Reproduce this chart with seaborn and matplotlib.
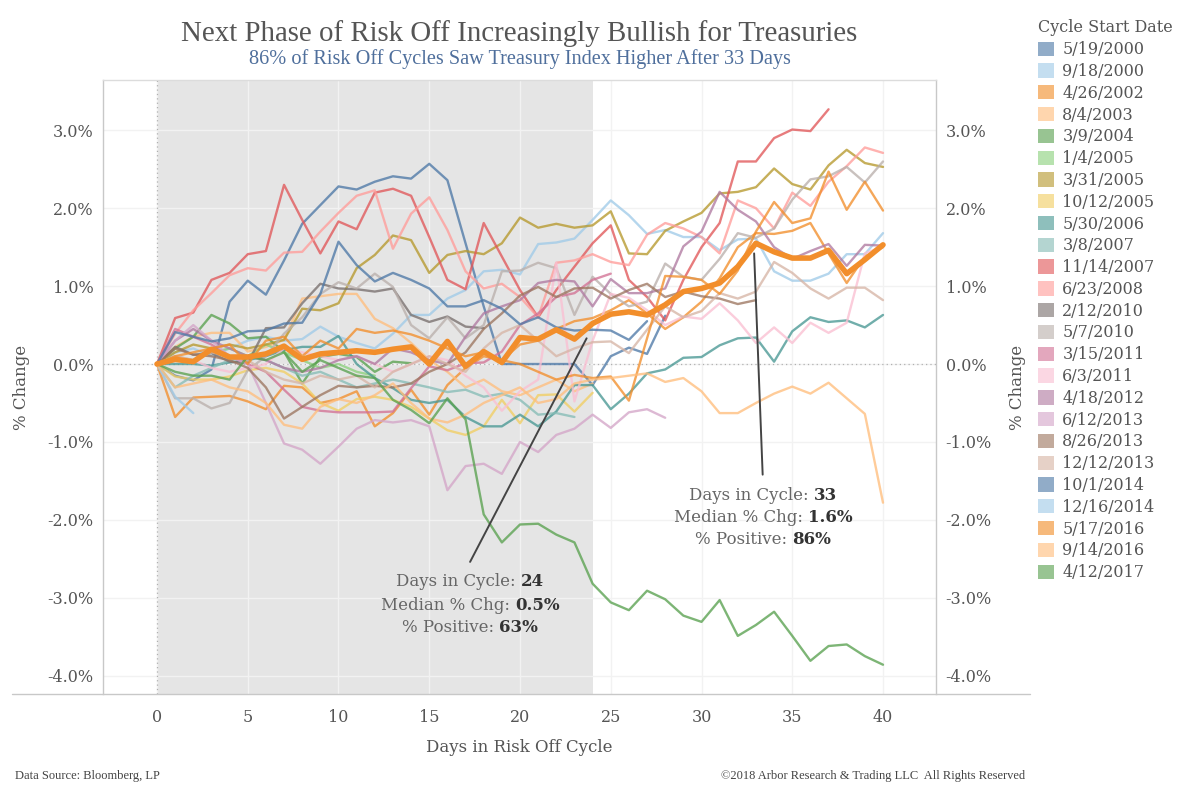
import numpy as np
import pandas as pd
import matplotlib
matplotlib.use("Agg")
import matplotlib.pyplot as plt
import seaborn as sns
from matplotlib.patches import Patch
from matplotlib.lines import Line2D

# ---------------- data ----------------
cycles = ["5/19/2000", "9/18/2000", "4/26/2002", "8/4/2003", "3/9/2004", "1/4/2005",
          "3/31/2005", "10/12/2005", "5/30/2006", "3/8/2007", "11/14/2007", "6/23/2008",
          "2/12/2010", "5/7/2010", "3/15/2011", "6/3/2011", "4/18/2012", "6/12/2013",
          "8/26/2013", "12/12/2013", "10/1/2014", "12/16/2014", "5/17/2016", "9/14/2016",
          "4/12/2017"]

colors = ["#4e79a7", "#a0cbe8", "#f28e2b", "#ffbe7d", "#59a14f", "#8cd17d",
          "#b6992d", "#f1ce63", "#499894", "#86bcb6", "#e15759", "#ff9d9a",
          "#79706e", "#bab0ac", "#d37295", "#fabfd2", "#b07aa1", "#d4a6c8",
          "#9d7660", "#d7b5a6", "#4e79a7", "#a0cbe8", "#f28e2b", "#ffbe7d",
          "#59a14f"]

c_5_19_2000 = [0, -0.15, -0.21, -0.07, 0.8, 1.07, 0.89, 1.33, 1.8, 2.04,
               2.28, 2.24, 2.34, 2.41, 2.38, 2.57, 2.36, 1.55, 0.74, 0.0,
               0.0, 0.0, 0.0, 0.0, -0.27, 0.10, 0.21, 0.13, 0.62]
c_9_18_2000 = [0, 0.15, 0.2, 0.1, 0.2, 0.3, 0.35, 0.3, 0.32, 0.48,
               0.35, 0.27, 0.2, 0.39, 0.63, 0.63, 0.84, 0.95, 1.19, 1.21,
               1.15, 1.54, 1.56, 1.61, 1.85, 2.10, 1.91, 1.67, 1.72, 1.63,
               1.63, 1.46, 1.6, 1.61, 1.19, 1.07, 1.07, 1.16, 1.41, 1.41, 1.68]
c_4_26_2002 = [0, -0.68, -0.43, -0.42, -0.41, -0.48, -0.58, -0.28, -0.3, -0.5,
               -0.45, -0.35, -0.8, -0.63, -0.33, -0.65, -0.27, -0.05, 0.1, 0.05,
               0.25, 0.3, 0.45, 0.55, 0.59, 0.69, 0.82, 0.65, 0.45, 0.6,
               0.8, 1.1, 1.5, 1.68, 1.67, 1.71, 1.81, 1.42, 1.04, 1.38, 1.5]
c_8_4_2003 = [0, 0.22, 0.35, 0.4, 0.4, 0.16, 0.22, 0.31, 0.84, 0.87,
              0.9, 0.9, 0.58, 0.46, 0.27, 0.05, -0.1, -0.3, -0.2, -0.35,
              -0.4, -0.3, -0.2, -0.35, -0.25]
c_3_9_2004 = [0, 0.2, 0.35, 0.63, 0.52, 0.33, 0.35, 0.16, -0.25, 0.09,
              0.13, 0.09, -0.1, 0.03, 0.01]
c_1_4_2005 = [0, 0.1, 0.05, 0.15, 0.2, 0.1, 0.25, 0.15, 0.05, -0.05,
              0.0, -0.1, -0.15]
c_3_31_2005 = [0, 0.15, 0.25, 0.2, 0.25, 0.2, 0.25, 0.31, 0.71, 0.69,
               0.78, 1.23, 1.40, 1.65, 1.59, 1.17, 1.40, 1.45, 1.41, 1.55,
               1.88, 1.75, 1.80, 1.75, 1.78, 1.96, 1.42, 1.41, 1.71, 1.83,
               1.94, 2.19, 2.21, 2.27, 2.51, 2.31, 2.24, 2.55, 2.75, 2.58, 2.53]
c_10_12_2005 = [0, -0.16, -0.2, -0.2, -0.16, -0.08, -0.05, -0.1, -0.25, -0.5,
                -0.6, -0.45, -0.42, -0.46, -0.55, -0.7, -0.85, -0.91, -0.80, -0.46,
                -0.76, -0.4, -0.39, -0.61, -0.37]
c_5_30_2006 = [0, 0.0, 0.0, -0.02, 0.02, 0.05, 0.1, 0.18, 0.22, 0.22,
               0.36, 0.0, -0.18, -0.31, -0.46, -0.5, -0.46, -0.68, -0.8, -0.8,
               -0.65, -0.8, -0.61, -0.27, -0.27, -0.58, -0.38, -0.12, -0.07, 0.08,
               0.09, 0.24, 0.33, 0.34, 0.03, 0.42, 0.6, 0.54, 0.56, 0.47, 0.63]
c_3_8_2007 = [0, -0.3, -0.15, -0.05, 0.05, 0.1, 0.05, -0.05, -0.15, -0.1,
              -0.2, -0.3, -0.25, -0.2, -0.25, -0.3, -0.36, -0.33, -0.42, -0.38,
              -0.46, -0.65, -0.63, -0.68]
c_11_14_2007 = [0, 0.59, 0.66, 1.08, 1.17, 1.41, 1.45, 2.30, 1.85, 1.42,
                1.83, 1.73, 2.20, 2.25, 2.16, 1.63, 1.08, 0.96, 1.81, 1.38,
                0.95, 0.6, 0.95, 1.25, 1.55, 1.78, 1.08, 0.86, 0.56, 1.08,
                1.5, 1.81, 2.6, 2.6, 2.9, 3.01, 2.99, 3.27]
c_6_23_2008 = [0, 0.39, 0.69, 0.91, 1.14, 1.23, 1.20, 1.43, 1.44, 1.70,
               1.94, 2.16, 2.23, 1.48, 1.93, 2.14, 1.72, 1.19, 0.97, 1.03,
               0.86, 0.6, 1.30, 1.33, 1.41, 1.31, 1.27, 1.66, 1.81, 1.74,
               1.63, 1.42, 2.10, 2.0, 1.74, 2.20, 2.03, 2.34, 2.54, 2.78, 2.71]
c_2_12_2010 = [0, 0.22, 0.12, 0.14, 0.03, 0.01, 0.46, 0.47, 0.78, 1.03,
               0.97, 0.96, 0.93, 0.97, 0.63, 0.54, 0.61, 0.48, 0.46]
c_5_7_2010 = [0, -0.44, -0.44, -0.57, -0.5, -0.08, 0.1, 0.39, 0.6, 0.9,
              1.05, 0.97, 1.16, 0.99, 0.5, 0.33, 0.6, 0.33, 0.5, 1.19,
              1.2, 1.3, 1.23, 0.63, 1.12, 0.9, 0.74, 0.8, 1.29, 1.12,
              1.08, 1.35, 1.68, 1.62, 1.74, 2.11, 2.37, 2.41, 2.53, 2.33, 2.6]
c_3_15_2011 = [0, 0.45, 0.35, 0.25, 0.1, 0.0, -0.1, -0.33, -0.55, -0.6,
               -0.62, -0.62, -0.62, -0.61, -0.31, -0.03, -0.08, 0.01, 0.02, 0.16,
               0.5, 0.65, 0.86, 0.91, 1.08, 1.16]
c_6_3_2011 = [0, 0.1, 0.05, -0.05, -0.1, -0.05, 0.0, 0.2, 0.15, 0.1,
              0.05, 0.1, 0.0, -0.1, 0.0, 0.1, 0.05, -0.15, -0.3, -0.6,
              -0.35, -0.2, 1.3, -0.48, 0.3, 0.9, 0.85, 0.69, 0.50, 0.61,
              0.58, 0.78, 0.56, 0.27, 0.47, 0.27, 0.53, 0.40, 0.53, 1.42, 1.51]
c_4_18_2012 = [0, 0.3, 0.45, 0.3, 0.2, 0.1, 0.05, -0.05, -0.1, -0.05,
               0.05, 0.1, 0.0, 0.2, 0.15, 0.05, 0.0, 0.35, 0.65, 0.74,
               0.82, 1.04, 1.08, 1.06, 0.74, 1.09, 0.91, 0.91, 0.97, 1.51,
               1.70, 2.21, 1.98, 1.83, 1.5, 1.35, 1.45, 1.54, 1.26, 1.53, 1.52]
c_6_12_2013 = [0, 0.3, 0.5, 0.3, 0.1, 0.0, -0.5, -1.02, -1.1, -1.28,
               -1.06, -0.83, -0.72, -0.75, -0.72, -0.8, -1.62, -1.31, -1.28, -1.41,
               -1.0, -1.13, -0.91, -0.83, -0.65, -0.82, -0.62, -0.58, -0.69]
c_8_26_2013 = [0, 0.2, 0.12, 0.1, 0.05, -0.05, -0.3, -0.7, -0.55, -0.4,
               -0.28, -0.3, -0.28, -0.3, -0.25, -0.1, 0.0, 0.15, 0.45, 0.65,
               0.88, 0.99, 0.86, 0.97, 0.98, 0.84, 0.95, 1.03, 0.86, 0.93,
               0.87, 0.84, 0.77, 0.82]
c_12_12_2013 = [0, 0.1, 0.05, 0.15, 0.1, 0.05, -0.1, -0.2, -0.25, -0.15,
                -0.2, -0.15, -0.3, -0.1, 0.0, 0.1, 0.0, -0.1, 0.2, 0.4,
                0.5, 0.3, 0.1, 0.2, 0.28, 0.29, 0.14, 0.44, 0.74, 0.6,
                0.68, 0.91, 0.84, 0.93, 1.31, 1.17, 0.97, 0.84, 0.98, 0.98, 0.82]
c_10_1_2014 = [0, 0.41, 0.35, 0.29, 0.33, 0.42, 0.43, 0.52, 0.53, 0.9,
               1.57, 1.27, 1.06, 1.17, 1.08, 0.97, 0.74, 0.74, 0.82, 0.71,
               0.51, 0.6, 0.47, 0.43, 0.44, 0.43, 0.31, 0.55]
c_12_16_2014 = [0, -0.42, -0.63]
c_5_17_2016 = [0, 0.1, 0.15, 0.2, 0.25, 0.0, 0.3, 0.35, 0.1, 0.3,
               0.2, 0.45, 0.4, 0.43, 0.38, 0.3, 0.2, 0.1, 0.15, 0.05,
               0.0, -0.1, -0.2, -0.14, -0.18, -0.16, -0.47, 0.33, 1.13, 1.12,
               1.08, 0.9, 1.2, 1.7, 2.08, 1.81, 1.87, 2.47, 1.98, 2.34, 1.97]
c_9_14_2016 = [0, -0.3, -0.25, -0.2, -0.3, -0.35, -0.5, -0.78, -0.83, -0.55,
               -0.45, -0.5, -0.4, -0.25, -0.5, -0.7, -0.75, -0.65, -0.5, -0.4,
               -0.3, -0.5, -0.45, -0.25, -0.2, -0.18, -0.15, -0.12, -0.23, -0.18,
               -0.35, -0.63, -0.63, -0.50, -0.38, -0.29, -0.38, -0.24, -0.44, -0.64, -1.78]
c_4_12_2017 = [0, -0.1, -0.15, -0.15, -0.2, 0.1, 0.05, 0.15, -0.1, 0.05,
               -0.05, -0.15, -0.18, -0.46, -0.59, -0.76, -0.44, -0.71, -1.93, -2.29,
               -2.06, -2.05, -2.19, -2.29, -2.82, -3.06, -3.16, -2.91, -3.02, -3.23,
               -3.31, -3.03, -3.49, -3.35, -3.18, -3.49, -3.81, -3.62, -3.6, -3.75, -3.86]

median_chg = [0, 0.06, 0.03, 0.19, 0.09, 0.09, 0.13, 0.23, 0.06, 0.13,
              0.15, 0.17, 0.15, 0.19, 0.22, 0.0, 0.29, -0.03, 0.16, 0.02,
              0.34, 0.32, 0.44, 0.32, 0.52, 0.64, 0.67, 0.63, 0.76, 0.93,
              0.97, 1.04, 1.25, 1.55, 1.44, 1.36, 1.36, 1.46, 1.16, 1.34, 1.53]

series = [c_5_19_2000, c_9_18_2000, c_4_26_2002, c_8_4_2003, c_3_9_2004, c_1_4_2005,
          c_3_31_2005, c_10_12_2005, c_5_30_2006, c_3_8_2007, c_11_14_2007, c_6_23_2008,
          c_2_12_2010, c_5_7_2010, c_3_15_2011, c_6_3_2011, c_4_18_2012, c_6_12_2013,
          c_8_26_2013, c_12_12_2013, c_10_1_2014, c_12_16_2014, c_5_17_2016, c_9_14_2016,
          c_4_12_2017]

x_ticks = [0, 5, 10, 15, 20, 25, 30, 35, 40]
y_ticks = [-4, -3, -2, -1, 0, 1, 2, 3]
y_tick_labels = ["-4.0%", "-3.0%", "-2.0%", "-1.0%", "0.0%", "1.0%", "2.0%", "3.0%"]

ann1_lines = [("Days in Cycle: ", "24"), ("Median % Chg: ", "0.5%"), ("% Positive: ", "63%")]
ann2_lines = [("Days in Cycle: ", "33"), ("Median % Chg: ", "1.6%"), ("% Positive: ", "86%")]

rows = []
for name, vals in zip(cycles, series):
    for d, v in enumerate(vals):
        rows.append((name, d, v))
df = pd.DataFrame(rows, columns=["Cycle", "Day", "Change"])
med_df = pd.DataFrame({"Day": np.arange(len(median_chg)), "Change": median_chg})
palette = dict(zip(cycles, colors))

# ---------------- style ----------------
sns.set_theme(style="white")
plt.rcParams["font.family"] = ["DejaVu Serif", "DejaVu Sans"]
TXT = "#555555"

W, H = 1200, 800
fig = plt.figure(figsize=(12, 8), dpi=100)
L, R, T, B = 103, 936, 80, 694
ax = fig.add_axes([L / W, 1 - B / H, (R - L) / W, (B - T) / H])

X0, X1 = -2.975, 42.92
Y0, Y1 = -4.236, 3.646
ax.set_xlim(X0, X1)
ax.set_ylim(Y0, Y1)

ax.axvspan(0, 24, color="#e5e5e5", zorder=0, lw=0)
ax.set_axisbelow(True)
ax.set_xticks(x_ticks)
ax.set_yticks(y_ticks)
ax.grid(True, color="#f2f2f2", lw=1.0)
ax.axhline(0, color="#b0b0b0", lw=0.9, ls=(0, (1, 2.5)), zorder=1)
ax.axvline(0, color="#b0b0b0", lw=0.9, ls=(0, (1, 2.5)), zorder=1)

sns.lineplot(data=df, x="Day", y="Change", hue="Cycle", hue_order=cycles,
             palette=palette, estimator=None, legend=False, linewidth=1.7,
             alpha=0.78, ax=ax, zorder=3)
sns.lineplot(data=med_df, x="Day", y="Change", color="#f28e2b", linewidth=4.0,
             ax=ax, zorder=5, legend=False)
for ln in ax.lines[-1:]:
    ln.set_solid_joinstyle("round")

# spines
for s in ["left", "right"]:
    ax.spines[s].set_color("#c8c8c8")
    ax.spines[s].set_linewidth(1.0)
ax.spines["top"].set_color("#dcdcdc")
ax.spines["top"].set_linewidth(1.0)
ax.spines["bottom"].set_visible(False)
fig.add_artist(Line2D([12 / W, 1030 / W], [1 - B / H, 1 - B / H],
                      color="#c8c8c8", lw=1.0, transform=fig.transFigure))

ax.tick_params(axis="both", length=0, colors=TXT, labelsize=11.5)
ax.tick_params(axis="y", pad=7)
ax.tick_params(axis="x", pad=11)
ax.set_xticklabels([str(t) for t in x_ticks])
ax.set_yticklabels(y_tick_labels)
ax.set_xlabel("Days in Risk Off Cycle", fontsize=12, color=TXT, labelpad=9)
ax.set_ylabel("% Change", fontsize=12, color=TXT, labelpad=12)

tw = ax.twinx()
tw.set_ylim(Y0, Y1)
tw.set_yticks(y_ticks)
tw.set_yticklabels(y_tick_labels)
tw.tick_params(axis="y", length=0, colors=TXT, labelsize=11.5, pad=7)
tw.set_ylabel("% Change", fontsize=12, color=TXT, labelpad=12)
tw.grid(False)
for s in tw.spines.values():
    s.set_visible(False)

# connectors
ax.plot([23.67, 17.25], [0.33, -2.54], color="#444444", lw=1.4, zorder=6)
ax.plot([32.9, 33.37], [1.42, -1.42], color="#444444", lw=1.4, zorder=6)

# titles
fig.text(519.5 / W, 1 - 34 / H, "Next Phase of Risk Off Increasingly Bullish for Treasuries",
         ha="center", va="center", fontsize=20.8, color=TXT, family="Liberation Serif")
fig.text(519.5 / W, 1 - 59 / H, "86% of Risk Off Cycles Saw Treasury Index Higher After 33 Days",
         ha="center", va="center", fontsize=14.6, color="#4f6f9c", family="Liberation Serif")

fig.text(15 / W, 1 - 776 / H, "Data Source: Bloomberg, LP", ha="left", va="center",
         fontsize=9, color="#444444", family="Liberation Serif")
fig.text(1025 / W, 1 - 776 / H, "\u00a92018 Arbor Research & Trading LLC  All Rights Reserved",
         ha="right", va="center", fontsize=9, color="#444444", family="Liberation Serif")

# legend
handles = [Patch(facecolor=c, alpha=0.62, edgecolor="none") for c in colors]
leg = fig.legend(handles, cycles, loc="upper left", bbox_to_anchor=(1032 / W, 1 - 13 / H),
                 frameon=False, title="Cycle Start Date", fontsize=11.5,
                 title_fontsize=11.5, handlelength=1.0, handleheight=1.0,
                 handletextpad=0.5, labelspacing=0.3, borderaxespad=0, alignment="left")
for t in leg.get_texts():
    t.set_color(TXT)
leg.get_title().set_color(TXT)

# rich annotations
fig.canvas.draw()
renderer = fig.canvas.get_renderer()


def rich_block(cx_px, y_px_list, lines):
    for (norm, bold), ypx in zip(lines, y_px_list):
        t1 = fig.text(0, 1 - ypx / H, norm, fontsize=12, color="#666666", va="center", ha="left")
        t2 = fig.text(0, 1 - ypx / H, bold, fontsize=12, color="#333333", va="center",
                      ha="left", weight="bold")
        w1 = t1.get_window_extent(renderer).width
        w2 = t2.get_window_extent(renderer).width
        x_start = cx_px - (w1 + w2) / 2
        t1.set_x(x_start / W)
        t2.set_x((x_start + w1) / W)


rich_block(470, [582, 605, 628], ann1_lines)
rich_block(763, [496, 518, 540], ann2_lines)

fig.savefig("out.png", dpi=100)
